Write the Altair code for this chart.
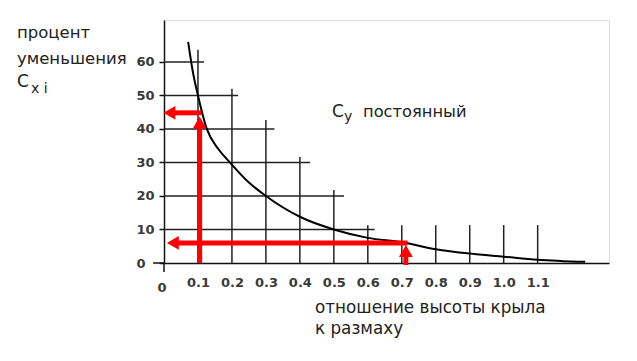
import altair as alt
import pandas as pd

# ---- data ----
curve_x = [0.071, 0.085, 0.1, 0.126, 0.16, 0.194, 0.25, 0.3, 0.4, 0.5, 0.6, 0.7, 0.8, 0.9, 1.0, 1.1, 1.24]
curve_y = [66, 57, 50, 40, 34, 30, 24, 20, 13.8, 10, 7.5, 6.2, 4.1, 2.8, 1.9, 1.0, 0.35]

hgrid_y = [10, 20, 30, 40, 50, 60]
hgrid_end = [0.62, 0.53, 0.43, 0.325, 0.218, 0.118]

vgrid_x = [0.1, 0.2, 0.3, 0.4, 0.5, 0.6, 0.7, 0.8, 0.9, 1.0, 1.1]
vgrid_top = [63.6, 52, 42.7, 31.6, 21.8, 11.3, 11.3, 11.3, 11.3, 11.3, 11.3]

x_ticks = [0.1, 0.2, 0.3, 0.4, 0.5, 0.6, 0.7, 0.8, 0.9, 1.0, 1.1]
y_ticks = [0, 10, 20, 30, 40, 50, 60]

# red reading arrows
red_v_x = [0.105, 0.712]
red_v_y0 = [0, -0.6]
red_v_y1 = [40.5, 2.2]
red_h_y = [44.8, 6.0]
red_h_x0 = [0.11, 0.717]
red_h_x1 = [0.03, 0.035]
head_up_x = [0.105, 0.712]
head_up_y = [41.9, 3.6]
head_left_x = [0.016, 0.026]
head_left_y = [44.8, 6.0]

X_DOM = [0, 1.31]
Y_DOM = [0, 72.5]
FONT = "DejaVu Sans"

xs = alt.Scale(domain=X_DOM, nice=False, zero=False)
ys = alt.Scale(domain=Y_DOM, nice=False, zero=False)

base = alt.Chart(pd.DataFrame({"a": [0]}))

# axes (domain lines + labels)
axes = alt.Chart(pd.DataFrame({"x": [0], "y": [0]})).mark_point(opacity=0).encode(
    x=alt.X("x:Q", scale=xs, axis=alt.Axis(values=x_ticks, format=".1f", title=None, grid=False,
                                           domainColor="#111", domainWidth=1.5, ticks=False,
                                           labelPadding=13,
                                           labelFont=FONT, labelFontSize=13, labelColor="#3a3a3a",
                                           labelFontWeight="bold")),
    y=alt.Y("y:Q", scale=ys, axis=alt.Axis(values=y_ticks, title=None, grid=False,
                                           domainColor="#111", domainWidth=1.5, tickColor="#111",
                                           tickSize=5, tickWidth=1.5, labelPadding=23,
                                           labelAlign="left",
                                           labelFont=FONT, labelFontSize=13, labelColor="#3a3a3a",
                                           labelFontWeight="bold")),
)

# small extensions of the axis lines past the origin
ext_v = base.mark_rule(color="#111", strokeWidth=1.5).encode(
    x=alt.X("x0:Q", scale=xs), y=alt.Y("ya:Q", scale=ys), y2="yb:Q"
).transform_calculate(x0="0", ya="0", yb="-2.7")
ext_h = base.mark_rule(color="#111", strokeWidth=1.5).encode(
    x=alt.X("xa:Q", scale=xs), x2="xb:Q", y=alt.Y("y0:Q", scale=ys)
).transform_calculate(y0="0", xa="0", xb="-0.032")

hgrid = alt.Chart(pd.DataFrame({"y": hgrid_y, "x2": hgrid_end, "x": [0] * len(hgrid_y)})).mark_rule(
    color="#222", strokeWidth=1.5).encode(
    x=alt.X("x:Q", scale=xs), x2="x2:Q", y=alt.Y("y:Q", scale=ys))

vgrid = alt.Chart(pd.DataFrame({"x": vgrid_x, "y2": vgrid_top, "y": [0] * len(vgrid_x)})).mark_rule(
    color="#222", strokeWidth=1.5).encode(
    x=alt.X("x:Q", scale=xs), y=alt.Y("y:Q", scale=ys), y2="y2:Q")

curve = alt.Chart(pd.DataFrame({"x": curve_x, "y": curve_y})).mark_line(
    color="#000", strokeWidth=2, interpolate="monotone").encode(
    x=alt.X("x:Q", scale=xs), y=alt.Y("y:Q", scale=ys))

red_v = alt.Chart(pd.DataFrame({"x": red_v_x, "y": red_v_y0, "y2": red_v_y1})).mark_rule(
    color="#ff0000", strokeWidth=5).encode(
    x=alt.X("x:Q", scale=xs), y=alt.Y("y:Q", scale=ys), y2="y2:Q")

red_h = alt.Chart(pd.DataFrame({"y": red_h_y, "x": red_h_x0, "x2": red_h_x1})).mark_rule(
    color="#ff0000", strokeWidth=5).encode(
    x=alt.X("x:Q", scale=xs), x2="x2:Q", y=alt.Y("y:Q", scale=ys))

head_up = alt.Chart(pd.DataFrame({"x": head_up_x, "y": head_up_y})).mark_point(
    shape="triangle-up", filled=True, color="#ff0000", opacity=1, size=190, strokeWidth=0).encode(
    x=alt.X("x:Q", scale=xs), y=alt.Y("y:Q", scale=ys))

head_left = alt.Chart(pd.DataFrame({"x": head_left_x, "y": head_left_y})).mark_point(
    shape="triangle-left", filled=True, color="#ff0000", opacity=1, size=190, strokeWidth=0).encode(
    x=alt.X("x:Q", scale=xs), y=alt.Y("y:Q", scale=ys))


def label(text, px, py, size=16, align="left", baseline="alphabetic", color="#222", weight="normal"):
    return base.mark_text(text=text, align=align, baseline=baseline, font=FONT,
                          fontSize=size, color=color, fontWeight=weight).encode(
        x=alt.value(px), y=alt.value(py))


texts = [
    label("процент", -147, 18, size=16.5),
    label("уменьшения", -147, 44, size=16.5),
    label("C", -147, 67, size=17),
    label("x  i", -133, 73, size=14),
    label("C", 168, 97, size=17),
    label("y", 180, 101, size=14),
    label("постоянный", 199, 97, size=16.3),
    label("отношение высоты крыла", 151, 293, size=16.8),
    label("к размаху", 151, 314, size=16.8),
    label("0", -2, 268, size=13, align="center", baseline="middle", color="#3a3a3a", weight="bold"),
]

chart = alt.layer(axes, ext_v, ext_h, hgrid, vgrid, curve, red_v, red_h, head_up, head_left,
                  *texts).properties(
    width=445, height=243,
    autosize=alt.AutoSizeParams(type="none"),
    padding={"left": 156, "top": 12, "right": 20, "bottom": 85},
).configure_view(stroke=None).configure(background="white")

chart.save("out.html", embed_options={"renderer": "svg", "actions": False})
